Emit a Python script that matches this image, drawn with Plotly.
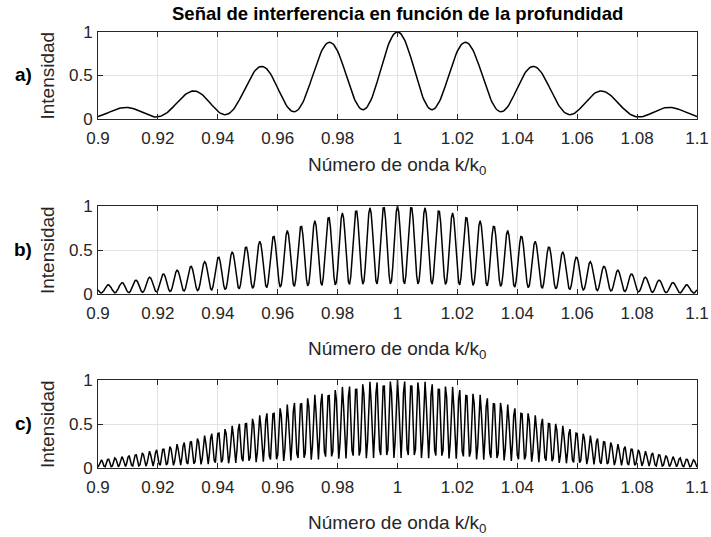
import numpy as np
import plotly.graph_objects as go

# Interference signal parameters for the three depths
panel_labels = ["a)", "b)", "c)"]
fringe_period = [0.023, 0.0046, 0.0023]   # fringe spacing in k/k0
envelope_center = 1.0                      # source spectrum centre (k/k0)
envelope_sigma = 0.0455                    # gaussian width of the source spectrum
fringe_visibility = 0.8                    # contrast of the fringes
n_samples = 501                            # samples of k/k0 over the window

k_min, k_max = 0.9, 1.1
x_tick_vals = [0.9, 0.92, 0.94, 0.96, 0.98, 1.0, 1.02, 1.04, 1.06, 1.08, 1.1]
x_tick_text = ["0.9", "0.92", "0.94", "0.96", "0.98", "1", "1.02", "1.04", "1.06", "1.08", "1.1"]
y_tick_vals = [0, 0.5, 1]
y_tick_text = ["0", "0.5", "1"]

title_text = "Señal de interferencia en función de la profundidad"
x_title = "Número de onda k/k<sub>0</sub>"
y_title = "Intensidad"

W, H = 711, 537
L, R = 98, 697
# vertical pixel extents of the three axes boxes
boxes = [(32, 119), (206, 294), (380, 468)]
x_title_y = [166, 350, 524]

k = np.linspace(k_min, k_max, n_samples)
envelope = np.exp(-((k - envelope_center) ** 2) / (2 * envelope_sigma ** 2))


def px_x(p):
    return (p - L) / (R - L)


def px_y(p):
    return 1 - p / H


FONT = "Liberation Sans, Arial, sans-serif"
AX_COLOR = "#262626"
GRID = "#e3e3e3"

fig = go.Figure()
annotations = []
for i, period in enumerate(fringe_period):
    signal = envelope * (1 + fringe_visibility * np.cos(2 * np.pi * (k - envelope_center) / period)) / (1 + fringe_visibility)
    xa = "x" if i == 0 else f"x{i+1}"
    ya = "y" if i == 0 else f"y{i+1}"
    fig.add_trace(go.Scatter(x=k, y=signal, mode="lines", xaxis=xa, yaxis=ya,
                             line=dict(color="black", width=1.5), showlegend=False,
                             hoverinfo="skip"))
    top, bot = boxes[i]
    axis_common = dict(showline=True, linecolor=AX_COLOR, linewidth=1, mirror="ticks",
                       ticks="inside", ticklen=5, tickcolor=AX_COLOR, tickwidth=1,
                       showgrid=True, gridcolor=GRID, gridwidth=1, zeroline=False,
                       automargin=False,
                       tickfont=dict(family=FONT, size=17, color=AX_COLOR))
    fig.layout[f"xaxis{'' if i == 0 else i+1}"] = dict(
        axis_common, domain=[0, 1], range=[k_min, k_max], tickvals=x_tick_vals,
        ticktext=x_tick_text, anchor=ya, ticklabelstandoff=4)
    fig.layout[f"yaxis{'' if i == 0 else i+1}"] = dict(
        axis_common, domain=[px_y(bot), px_y(top)], range=[0, 1], tickvals=y_tick_vals,
        ticktext=y_tick_text, anchor=xa, ticklabelstandoff=1)
    mid = (top + bot) / 2
    annotations.append(dict(text=x_title, x=0.5, y=px_y(x_title_y[i]), xref="paper", yref="paper",
                            xanchor="center", yanchor="middle", showarrow=False,
                            font=dict(family=FONT, size=19, color=AX_COLOR)))
    annotations.append(dict(text=y_title, x=px_x(47), y=px_y(mid), xref="paper", yref="paper",
                            xanchor="center", yanchor="middle", showarrow=False, textangle=-90,
                            font=dict(family=FONT, size=19, color=AX_COLOR)))
    annotations.append(dict(text=f"<b>{panel_labels[i]}</b>", x=px_x(23), y=px_y(mid - 1),
                            xref="paper", yref="paper", xanchor="center", yanchor="middle",
                            showarrow=False, font=dict(family=FONT, size=19, color="black")))

annotations.append(dict(text=f"<b>{title_text}</b>", x=0.5, y=px_y(13), xref="paper", yref="paper",
                        xanchor="center", yanchor="middle", showarrow=False,
                        font=dict(family=FONT, size=18.5, color="black")))

fig.update_layout(width=W, height=H, margin=dict(l=L, r=W - R, t=0, b=0),
                  paper_bgcolor="white", plot_bgcolor="white", annotations=annotations)
fig.write_html("out.html")
